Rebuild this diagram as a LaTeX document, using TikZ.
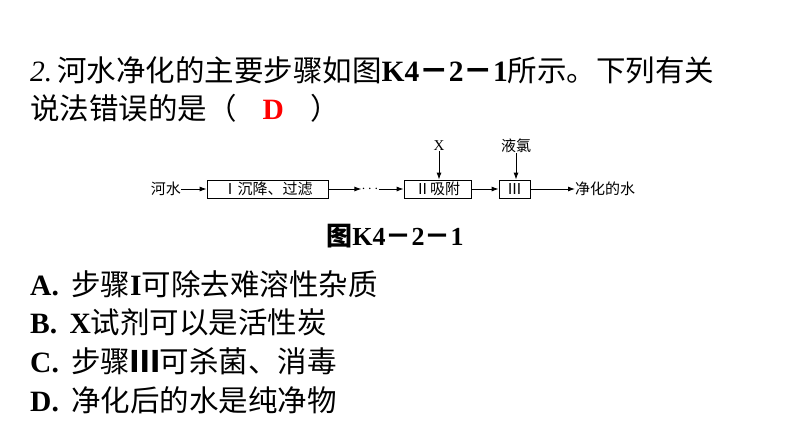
\documentclass[tikz,border=0pt]{standalone}
\usepackage{fontspec}
\setmainfont{Liberation Serif}
\newfontfamily\cjk{Noto Sans CJK SC}
\usetikzlibrary{arrows.meta}
\begin{document}
\begin{tikzpicture}[x=1pt,y=-1pt,
  box/.style={draw,line width=0.8pt,minimum height=18pt,inner sep=0pt,font=\cjk\fontsize{15}{15}\selectfont},
  lbl/.style={font=\cjk\fontsize{15}{15}\selectfont,inner sep=0pt},
  arr/.style={-{Latex[length=7pt,width=5pt]},line width=0.9pt},
  txt/.style={anchor=west,inner sep=0pt,font=\fontsize{29.5}{29.5}\selectfont}]
\useasboundingbox (0,0) rectangle (794,447);
\fill[white] (0,0) rectangle (794,447);
\node[txt] (q1) at (30,70) {\textit{2.}\,{\cjk 河水净化的主要步骤如图}\textbf{K4{\cjk\bfseries －}2{\cjk\bfseries －}1}{\cjk 所示。下列有关}};
\node[txt] (q2) at (30,108) {{\cjk 说法错误的是（}\hspace{26pt}\textcolor{red}{\textbf{D}}\hspace{26pt}{\cjk ）}};
\node[lbl,anchor=east] (river) at (181,189) {河水};
\node[box,minimum width=121pt] (b1) at (267.5,189) {Ⅰ沉降、过滤};
\node[lbl] (dots) at (370,189) {$\cdots$};
\node[box,minimum width=67pt] (b2) at (437.5,189) {Ⅱ吸附};
\node[box,minimum width=31pt] (b3) at (514.5,189) {Ⅲ};
\node[lbl,anchor=west] (out) at (575,189) {净化的水};
\node[lbl] (x) at (439,146) {\fontspec{Liberation Serif}X};
\node[lbl] (cl) at (516,146) {液氯};
\draw[arr] (river) -- (b1);
\draw[arr] (b1) -- (dots);
\draw[arr] (dots) -- (b2);
\draw[arr] (b2) -- (b3);
\draw[arr] (b3) -- (out);
\draw[arr] (x) -- (b2.north -| x);
\draw[arr] (cl) -- (b3.north -| cl);
\node[inner sep=0pt,font=\fontsize{26}{26}\selectfont] (cap) at (395,236) {{\cjk\bfseries 图}\textbf{K4{\cjk\bfseries －}2{\cjk\bfseries －}1}};
\node[txt] (a) at (30,284) {\textbf{A.}\, {\cjk 步骤}\textbf{I}{\cjk 可除去难溶性杂质}};
\node[txt] (b) at (30,322) {\textbf{B.}\, \textbf{X}{\cjk 试剂可以是活性炭}};
\node[txt] (c) at (30,361) {\textbf{C.}\, {\cjk 步骤\bfseries Ⅲ\mdseries 可杀菌、消毒}};
\node[txt] (d) at (30,400) {\textbf{D.}\, {\cjk 净化后的水是纯净物}};
\end{tikzpicture}
\end{document}
